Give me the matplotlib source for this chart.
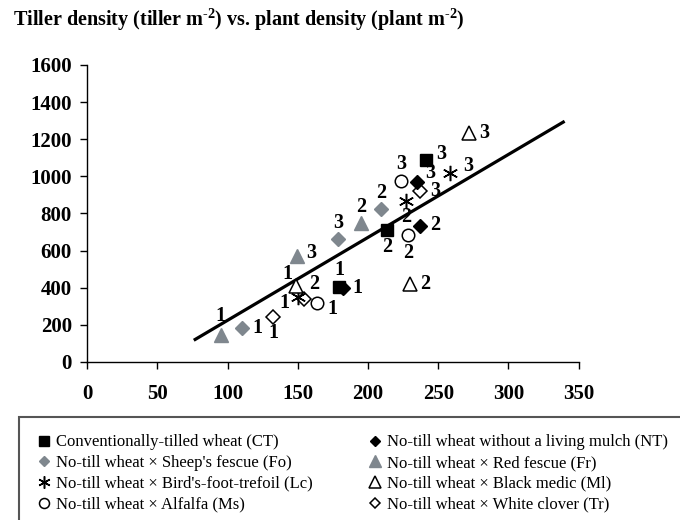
import matplotlib
matplotlib.use('Agg')
import matplotlib.pyplot as plt
from matplotlib.lines import Line2D
from matplotlib.patches import Rectangle

plt.rcParams['font.family'] = ['Liberation Serif', 'DejaVu Serif']
plt.rcParams['mathtext.fontset'] = 'custom'
plt.rcParams['mathtext.rm'] = 'Liberation Serif:bold'
plt.rcParams['mathtext.bf'] = 'Liberation Serif:bold'

# plant density (x) and tiller density (y), sites 1, 2, 3
ct_x = [179.7, 213.4, 241.5]
ct_y = [406, 711, 1088]
nt_x = [182.5, 237.2, 234.8]
nt_y = [400, 733, 971]
fo_x = [110.4, 209.2, 179.0]
fo_y = [181, 822, 661]
fr_x = [95.2, 194.9, 149.8]
fr_y = [144, 747, 571]
lc_x = [150.5, 227.2, 258.5]
lc_y = [348, 869, 1016]
ml_x = [148.9, 229.6, 271.6]
ml_y = [409, 420, 1235]
ms_x = [164.0, 228.8, 223.4]
ms_y = [316, 684, 977]
tr_x = [132.7, 154.6, 236.7]
tr_y = [244, 339, 923]
site_labels = ['1', '2', '3']

# linear fit
fit_slope = 4.47
fit_intercept = -223
fit_x = [76, 340]

labels = {
    'CT': 'Conventionally-tilled wheat (CT)',
    'NT': 'No-till wheat without a living mulch (NT)',
    'Fo': "No-till wheat \u00d7 Sheep's fescue (Fo)",
    'Fr': 'No-till wheat \u00d7 Red fescue (Fr)',
    'Lc': "No-till wheat \u00d7 Bird's-foot-trefoil (Lc)",
    'Ml': 'No-till wheat \u00d7 Black medic (Ml)',
    'Ms': 'No-till wheat \u00d7 Alfalfa (Ms)',
    'Tr': 'No-till wheat \u00d7 White clover (Tr)',
}

GRAY = '#7f878e'
star = (6, 2, 0)
styles = {
    'CT': dict(marker='s', ms=8.5, mfc='black', mec='black'),
    'NT': dict(marker='D', ms=7, mfc='black', mec='black'),
    'Fo': dict(marker='D', ms=7, mfc=GRAY, mec=GRAY),
    'Fr': dict(marker='^', ms=10, mfc=GRAY, mec=GRAY),
    'Lc': dict(marker=star, ms=11, mfc='black', mec='black', mew=1.1),
    'Ml': dict(marker='^', ms=10, mfc='white', mec='black', mew=1.1),
    'Ms': dict(marker='o', ms=9, mfc='white', mec='black', mew=1.1),
    'Tr': dict(marker='D', ms=7, mfc='white', mec='black', mew=1.1),
}
series = {
    'CT': (ct_x, ct_y), 'NT': (nt_x, nt_y), 'Fo': (fo_x, fo_y),
    'Fr': (fr_x, fr_y), 'Lc': (lc_x, lc_y), 'Ml': (ml_x, ml_y),
    'Ms': (ms_x, ms_y), 'Tr': (tr_x, tr_y),
}
# label offsets in points for each site
offsets = {
    'CT': [(0, 12), (0, -12), (11, 4)],
    'NT': [(10, 0), (11, 1), (10, 6)],
    'Fo': [(11, 0), (0, 12), (0, 12)],
    'Fr': [(0, 14), (0, 12), (10, 2)],
    'Lc': [(-10, -4), (0, -12), (13, 5)],
    'Ml': [(-6, 9), (11, 0), (11, 0)],
    'Ms': [(11, -4), (0, -13), (0, 12)],
    'Tr': [(0, -12), (7, 11), (11, 0)],
}

fig = plt.figure(figsize=(6.8, 5.2), dpi=100)
ax = fig.add_axes([0.128, 0.304, 0.723, 0.571])

fx = fit_x
fy = [fit_slope * v + fit_intercept for v in fx]
ax.plot(fx, fy, color='black', lw=2.3, solid_capstyle='butt', zorder=1)

for key in ['Fr', 'Fo', 'Tr', 'Lc', 'Ml', 'Ms', 'CT', 'NT']:
    xs, ys = series[key]
    ax.plot(xs, ys, ls='none', zorder=3, **styles[key])
    for i in range(3):
        ax.annotate(site_labels[i], (xs[i], ys[i]), xytext=offsets[key][i],
                    textcoords='offset points', ha='center', va='center',
                    fontsize=14.5, fontweight='bold', zorder=4)

ax.set_xlim(0, 350)
ax.set_ylim(0, 1600)
ax.set_xticks(range(0, 351, 50))
ax.set_yticks(range(0, 1601, 200))
ax.spines['top'].set_visible(False)
ax.spines['right'].set_visible(False)
for s in ['left', 'bottom']:
    ax.spines[s].set_linewidth(1.0)
ax.tick_params(axis='x', direction='out', length=5, width=1, pad=11,
               labelsize=15)
ax.tick_params(axis='y', direction='out', length=5, width=1, pad=6,
               labelsize=15)
for t in ax.get_xticklabels() + ax.get_yticklabels():
    t.set_fontweight('bold')

sup = r'$^{\text{-2}}$'
fig.text(0.019, 0.962,
         'Tiller density (tiller m' + sup + ') vs. plant density (plant m' + sup + ')',
         fontsize=14.5, fontweight='bold', ha='left', va='center')

# legend frame (runs off the figure edge like the original)
fig.patches.append(Rectangle((19 / 680, -0.05), 1.05, 1 - 417 / 520 + 0.05,
                             transform=fig.transFigure, fill=False,
                             edgecolor='#555555', lw=1.5))

order = ['CT', 'Fo', 'Lc', 'Ms', 'NT', 'Fr', 'Ml', 'Tr']
handles = []
for key in order:
    st = dict(styles[key])
    st['ms'] = st['ms'] * 0.8
    handles.append(Line2D([], [], ls='none', **st))
fig.legend(handles, [labels[k] for k in order], ncol=2, frameon=False,
           loc='upper left', bbox_to_anchor=(30 / 680, 1 - 426 / 520),
           fontsize=12, handlelength=0.7, handletextpad=0.35,
           columnspacing=3.4, labelspacing=0.28, borderpad=0)

fig.savefig('out.png', dpi=100)
